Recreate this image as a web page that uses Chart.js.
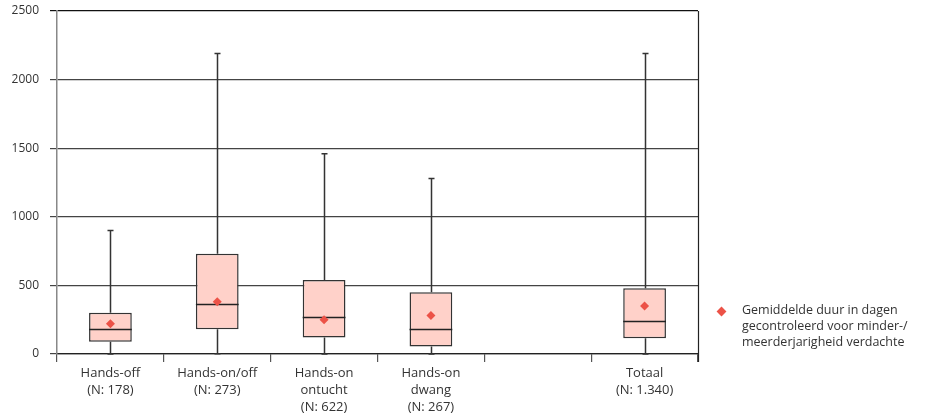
<!DOCTYPE html>
<html>
<head>
<meta charset="utf-8">
<script src="https://cdn.jsdelivr.net/npm/chart.js@4/dist/chart.umd.min.js"></script>
<style>
  html, body { margin: 0; padding: 0; background: #fff; }
  #wrap { position: relative; width: 937px; height: 419px; }
  #legend { position: absolute; left: 717px; top: 302px; font-family: "Open Sans", sans-serif; font-size: 12.5px; line-height: 16px; color: #333; }
  #legend .mk { position: absolute; left: 1px; top: 6px; width: 7px; height: 7px; background: #EC5247; transform: rotate(45deg); }
  #legend .tx { margin-left: 25px; white-space: nowrap; }
</style>
</head>
<body>
<div id="wrap">
  <canvas id="c" width="937" height="419"></canvas>
  <div id="legend"><span class="mk"></span><div class="tx">Gemiddelde duur in dagen<br>gecontroleerd voor minder-/<br>meerderjarigheid verdachte</div></div>
</div>
<script>
const categories = [
  ["Hands-off", "(N: 178)"],
  ["Hands-on/off", "(N: 273)"],
  ["Hands-on", "ontucht", "(N: 622)"],
  ["Hands-on", "dwang", "(N: 267)"],
  "",
  ["Totaal", "(N: 1.340)"]
];
const minValues    = [0,   1,    0,    0,    null, 0];
const q1Values     = [90,  180,  120,  55,   null, 115];
const medianValues = [180, 365,  270,  180,  null, 240];
const q3Values     = [300, 730,  540,  450,  null, 480];
const maxValues    = [900, 2190, 1460, 1280, null, 2190];
const meanValues   = [220, 380,  250,  280,  null, 350];
const yTicks = [0, 500, 1000, 1500, 2000, 2500];

const boxData = q1Values.map((q, i) => q === null ? null : [q, q3Values[i]]);

const boxPlugin = {
  id: 'boxExtras',
  beforeDatasetsDraw(chart) {
    const ctx = chart.ctx, x = chart.scales.x, y = chart.scales.y;
    ctx.save();
    ctx.strokeStyle = '#333';
    ctx.lineWidth = 1.5;
    for (let i = 0; i < categories.length; i++) {
      if (maxValues[i] === null) continue;
      const cx = Math.round(x.getPixelForValue(i)) + 0.5;
      const yMax = y.getPixelForValue(maxValues[i]);
      const yMin = y.getPixelForValue(minValues[i]);
      const yQ3 = y.getPixelForValue(q3Values[i]);
      const yQ1 = y.getPixelForValue(q1Values[i]);
      ctx.beginPath();
      ctx.moveTo(cx, yMax); ctx.lineTo(cx, yQ3);
      ctx.moveTo(cx, yQ1); ctx.lineTo(cx, yMin);
      ctx.moveTo(cx - 3, yMax); ctx.lineTo(cx + 3, yMax);
      ctx.moveTo(cx - 3, yMin); ctx.lineTo(cx + 3, yMin);
      ctx.stroke();
    }
    ctx.restore();
  },
  afterDatasetDraw(chart, args) {
    if (args.index !== 0) return;
    const ctx = chart.ctx, x = chart.scales.x, y = chart.scales.y;
    const meta = chart.getDatasetMeta(0);
    ctx.save();
    ctx.strokeStyle = '#222';
    ctx.lineWidth = 1.5;
    for (let i = 0; i < categories.length; i++) {
      if (medianValues[i] === null) continue;
      const el = meta.data[i];
      const half = el.width / 2;
      const cx = x.getPixelForValue(i);
      const ym = Math.round(y.getPixelForValue(medianValues[i])) + 0.5;
      ctx.beginPath();
      ctx.moveTo(cx - half, ym); ctx.lineTo(cx + half, ym);
      ctx.stroke();
    }
    ctx.restore();
  },
  afterDraw(chart) {
    const ctx = chart.ctx, a = chart.chartArea;
    ctx.save();
    ctx.strokeStyle = '#222';
    ctx.lineWidth = 1.2;
    ctx.beginPath();
    ctx.moveTo(a.right + 0.5, a.top);
    ctx.lineTo(a.right + 0.5, a.bottom + 8);
    ctx.stroke();
    ctx.restore();
  }
};

new Chart(document.getElementById('c'), {
  type: 'bar',
  data: {
    labels: categories,
    datasets: [
      {
        type: 'bar',
        data: boxData,
        backgroundColor: '#FFD1C9',
        borderColor: '#333',
        borderWidth: 1.5,
        borderSkipped: false,
        barPercentage: 0.4,
        categoryPercentage: 1.0,
        order: 2
      },
      {
        type: 'line',
        data: meanValues,
        showLine: false,
        pointStyle: 'rectRot',
        pointRadius: 4.5,
        pointBackgroundColor: '#EC5247',
        pointBorderColor: '#EC5247',
        pointBorderWidth: 0,
        order: 1
      }
    ]
  },
  options: {
    responsive: false,
    animation: false,
    layout: { padding: { left: 8, right: 239, top: 11, bottom: 0 } },
    plugins: { legend: { display: false }, tooltip: { enabled: false } },
    scales: {
      x: {
        offset: true,
        grid: { offset: true, drawOnChartArea: false, drawTicks: true, tickLength: 8, color: '#555', lineWidth: 1.2 },
        border: { color: '#222', width: 1.2 },
        ticks: { color: '#333', font: { family: 'Open Sans', size: 13, lineHeight: 1.3 }, padding: 3, maxRotation: 0, autoSkip: false },
        afterFit(s) { s.height = 65; }
      },
      y: {
        min: 0, max: 2500,
        afterBuildTicks(s) { s.ticks = yTicks.map(v => ({ value: v })); },
        grid: { color: (c) => c.tick && c.tick.value === 2500 ? '#111' : '#444', lineWidth: 1.2, tickLength: 7 },
        border: { color: '#888', width: 1.5 },
        ticks: { color: '#333', font: { family: 'Open Sans', size: 12 }, padding: 11, callback: (v) => String(v) },
        afterFit(s) { s.width = 49; s.paddingTop = 0; s.paddingBottom = 0; }
      }
    }
  },
  plugins: [boxPlugin]
});
</script>
</body>
</html>
